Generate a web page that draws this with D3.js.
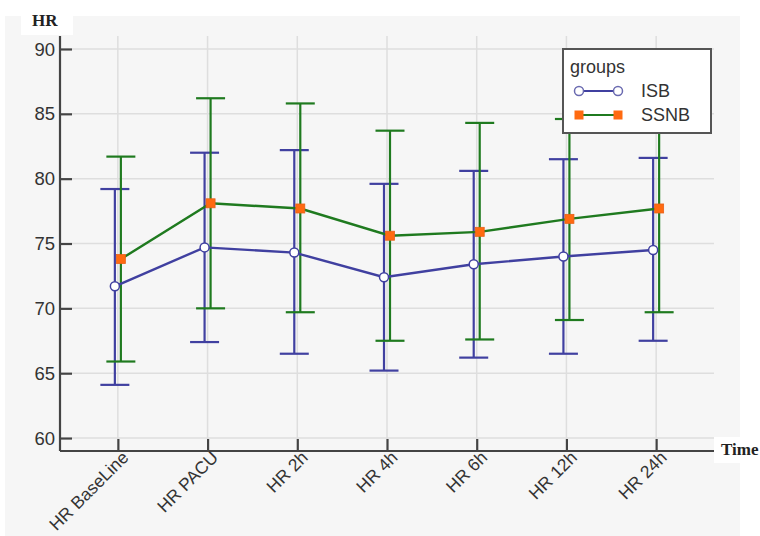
<!DOCTYPE html>
<html>
<head>
<meta charset="utf-8">
<script src="https://cdn.jsdelivr.net/npm/d3@7"></script>
<style>
  body { margin: 0; background: #fff; }
  svg { display: block; font-family: 'Liberation Sans', Arial, sans-serif; }
</style>
</head>
<body>
<div id="chart"></div>
<script>
// Data
const categories = ['HR BaseLine', 'HR PACU', 'HR 2h', 'HR 4h', 'HR 6h', 'HR 12h', 'HR 24h']
const yTicks = [60, 65, 70, 75, 80, 85, 90]

const isbMean = [71.7, 74.7, 74.3, 72.4, 73.4, 74.0, 74.5]
const isbUpper = [79.2, 82.0, 82.2, 79.6, 80.6, 81.5, 81.6]
const isbLower = [64.1, 67.4, 66.5, 65.2, 66.2, 66.5, 67.5]

const ssnbMean = [73.8, 78.1, 77.7, 75.6, 75.9, 76.9, 77.7]
const ssnbUpper = [81.7, 86.2, 85.8, 83.7, 84.3, 84.6, 85.7]
const ssnbLower = [65.9, 70.0, 69.7, 67.5, 67.6, 69.1, 69.7]

const groups = [
  { name: 'ISB', mean: isbMean, upper: isbUpper, lower: isbLower, color: '#4040a0', offset: -3 },
  { name: 'SSNB', mean: ssnbMean, upper: ssnbUpper, lower: ssnbLower, color: '#1f7a1f', offset: 3 }
]

const width = 760,
  height = 536,
  plotLeft = 60,
  plotRight = 714,
  plotTop = 36,
  plotBottom = 451

const svg = d3
  .select('#chart')
  .append('svg')
  .attr('width', width)
  .attr('height', height)

// grey panel
svg
  .append('rect')
  .attr('x', 5)
  .attr('y', 16)
  .attr('width', 735)
  .attr('height', 520)
  .attr('fill', '#f6f6f6')

const xScale = d3
  .scalePoint()
  .domain(categories)
  .range([plotLeft, plotRight])
  .padding(0.645)

const yScale = d3
  .scaleLinear()
  .domain([59, 91])
  .range([plotBottom, plotTop])

// grid
svg
  .append('g')
  .selectAll('line')
  .data(yTicks)
  .enter()
  .append('line')
  .attr('x1', plotLeft + 12)
  .attr('x2', plotRight)
  .attr('y1', d => yScale(d))
  .attr('y2', d => yScale(d))
  .attr('stroke', '#dedede')
  .attr('stroke-width', 1.5)

svg
  .append('g')
  .selectAll('line')
  .data(categories)
  .enter()
  .append('line')
  .attr('x1', d => xScale(d))
  .attr('x2', d => xScale(d))
  .attr('y1', plotTop)
  .attr('y2', plotBottom - 12)
  .attr('stroke', '#dedede')
  .attr('stroke-width', 1.5)

// y axis (inward ticks)
const yAxis = svg
  .append('g')
  .attr('transform', 'translate(' + plotLeft + ',0)')
  .call(d3.axisRight(yScale).tickValues(yTicks).tickSize(12).tickSizeOuter(0).tickFormat(''))
yAxis.selectAll('path, line').attr('stroke', '#444').attr('stroke-width', 2.2)
yAxis.select('.domain').attr('d', 'M0,' + plotTop + 'V' + plotBottom)

svg
  .append('g')
  .selectAll('text')
  .data(yTicks)
  .enter()
  .append('text')
  .attr('x', plotLeft - 5)
  .attr('y', d => yScale(d))
  .attr('dy', '0.36em')
  .attr('text-anchor', 'end')
  .attr('font-size', 18.5)
  .attr('fill', '#333')
  .text(d => d)

// x axis (inward ticks)
const xAxis = svg
  .append('g')
  .attr('transform', 'translate(0,' + plotBottom + ')')
  .call(d3.axisTop(xScale).tickSize(12).tickSizeOuter(0).tickFormat(''))
xAxis.selectAll('path, line').attr('stroke', '#444').attr('stroke-width', 2.2)
xAxis.select('.domain').attr('d', 'M' + plotLeft + ',0H' + plotRight)

svg
  .append('g')
  .selectAll('text')
  .data(categories)
  .enter()
  .append('text')
  .attr('transform', d => 'translate(' + (xScale(d) + 3) + ',' + (plotBottom - 1) + ') rotate(-45)')
  .attr('dy', '0.7em')
  .attr('text-anchor', 'end')
  .attr('font-size', 17.5)
  .attr('fill', '#333')
  .text(d => d)

// axis titles with white boxes
svg.append('rect').attr('x', 21).attr('y', 16).attr('width', 52).attr('height', 19).attr('fill', '#fff')
svg
  .append('text')
  .attr('x', 32)
  .attr('y', 26)
  .attr('font-family', "'Liberation Serif', 'Times New Roman', serif")
  .attr('font-weight', 'bold')
  .attr('font-size', 17)
  .attr('fill', '#222')
  .text('HR')

svg.append('rect').attr('x', 714).attr('y', 437).attr('width', 46).attr('height', 26).attr('fill', '#fff')
svg
  .append('text')
  .attr('x', 721)
  .attr('y', 455)
  .attr('font-family', "'Liberation Serif', 'Times New Roman', serif")
  .attr('font-weight', 'bold')
  .attr('font-size', 17)
  .attr('fill', '#222')
  .text('Time')

// error bars
const capHalf = 14.5
groups.forEach(g => {
  const bars = svg.append('g').attr('stroke', g.color).attr('stroke-width', 2.2)
  categories.forEach((c, i) => {
    const x = xScale(c) + g.offset
    bars
      .append('line')
      .attr('x1', x)
      .attr('x2', x)
      .attr('y1', yScale(g.upper[i]))
      .attr('y2', yScale(g.lower[i]))
    bars
      .append('line')
      .attr('x1', x - capHalf)
      .attr('x2', x + capHalf)
      .attr('y1', yScale(g.upper[i]))
      .attr('y2', yScale(g.upper[i]))
    bars
      .append('line')
      .attr('x1', x - capHalf)
      .attr('x2', x + capHalf)
      .attr('y1', yScale(g.lower[i]))
      .attr('y2', yScale(g.lower[i]))
  })
})

// mean lines
const line = g =>
  d3
    .line()
    .x((d, i) => xScale(categories[i]) + g.offset)
    .y(d => yScale(d))

groups
  .slice()
  .reverse()
  .forEach(g => {
    svg
      .append('path')
      .datum(g.mean)
      .attr('fill', 'none')
      .attr('stroke', g.color)
      .attr('stroke-width', 2.4)
      .attr('d', line(g))
  })

// markers
const ssnb = groups[1]
svg
  .append('g')
  .selectAll('rect')
  .data(ssnb.mean)
  .enter()
  .append('rect')
  .attr('x', (d, i) => xScale(categories[i]) + ssnb.offset - 4.5)
  .attr('y', d => yScale(d) - 4.5)
  .attr('width', 9)
  .attr('height', 9)
  .attr('fill', '#ff6a10')
  .attr('stroke', '#e8601a')
  .attr('stroke-width', 0.8)

const isb = groups[0]
svg
  .append('g')
  .selectAll('circle')
  .data(isb.mean)
  .enter()
  .append('circle')
  .attr('cx', (d, i) => xScale(categories[i]) + isb.offset)
  .attr('cy', d => yScale(d))
  .attr('r', 4.5)
  .attr('fill', '#fff')
  .attr('stroke', '#4040a0')
  .attr('stroke-width', 1.5)

// legend
const legend = svg.append('g').attr('transform', 'translate(563,49)')
legend
  .append('rect')
  .attr('width', 148)
  .attr('height', 84)
  .attr('fill', '#fff')
  .attr('stroke', '#555')
  .attr('stroke-width', 2)
legend
  .append('text')
  .attr('x', 7)
  .attr('y', 24)
  .attr('font-size', 18)
  .attr('fill', '#333')
  .text('groups')

groups.forEach((g, i) => {
  const ly = 42 + i * 24
  legend
    .append('line')
    .attr('x1', 16)
    .attr('x2', 55)
    .attr('y1', ly)
    .attr('y2', ly)
    .attr('stroke', g.color)
    .attr('stroke-width', 2)
  ;[16, 55].forEach(lx => {
    if (g.name === 'ISB') {
      legend
        .append('circle')
        .attr('cx', lx)
        .attr('cy', ly)
        .attr('r', 4.5)
        .attr('fill', '#fff')
        .attr('stroke', '#6a6ab0')
        .attr('stroke-width', 1.5)
    } else {
      legend
        .append('rect')
        .attr('x', lx - 4.5)
        .attr('y', ly - 4.5)
        .attr('width', 9)
        .attr('height', 9)
        .attr('fill', '#ff6a10')
    }
  })
  legend
    .append('text')
    .attr('x', 78)
    .attr('y', ly)
    .attr('dy', '0.36em')
    .attr('font-size', 18)
    .attr('fill', '#333')
    .text(g.name)
})
</script>
</body>
</html>
